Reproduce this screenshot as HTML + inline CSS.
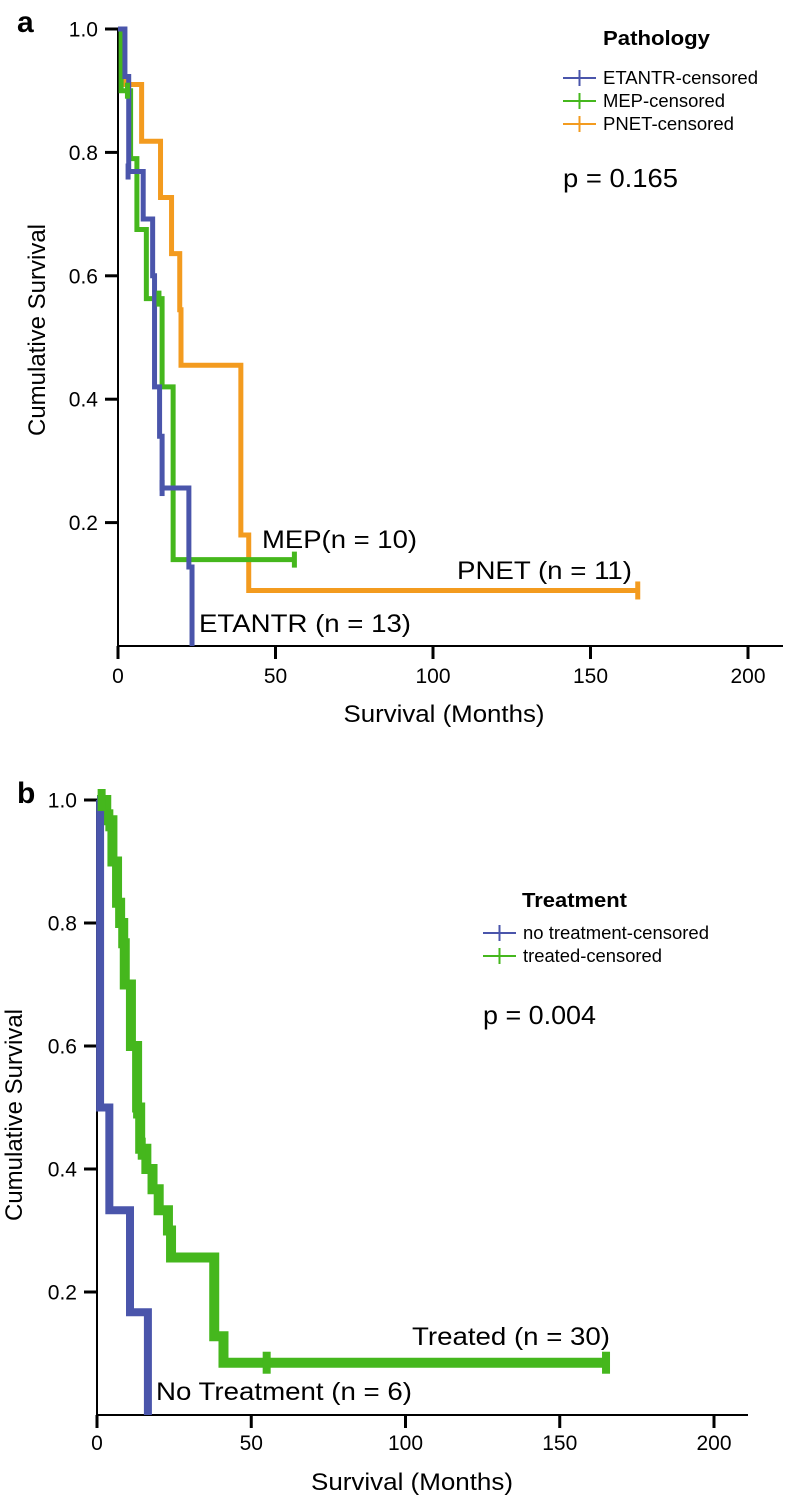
<!DOCTYPE html>
<html>
<head>
<meta charset="utf-8">
<style>
  html,body{margin:0;padding:0;background:#fff;}
  svg{display:block;font-family:"Liberation Sans",Arial,sans-serif;}
</style>
</head>
<body>
<svg id="chart" width="786" height="1498" viewBox="0 0 786 1498" xmlns="http://www.w3.org/2000/svg">
  <!-- Panel a static text -->
  <text x="17" y="32" font-size="30" font-weight="bold">a</text>
  <text transform="translate(45,330) rotate(-90)" text-anchor="middle" font-size="24" textLength="212" lengthAdjust="spacingAndGlyphs">Cumulative Survival</text>
  <text x="444" y="722" text-anchor="middle" font-size="24" textLength="201" lengthAdjust="spacingAndGlyphs">Survival (Months)</text>
  <text x="603" y="45" font-size="20" font-weight="bold" textLength="107" lengthAdjust="spacingAndGlyphs">Pathology</text>
  <text x="563" y="187" font-size="26" textLength="115" lengthAdjust="spacingAndGlyphs">p = 0.165</text>
  <text x="262" y="548" font-size="25" textLength="155" lengthAdjust="spacingAndGlyphs">MEP(n = 10)</text>
  <text x="457" y="579" font-size="25" textLength="175" lengthAdjust="spacingAndGlyphs">PNET (n = 11)</text>
  <text x="199" y="632" font-size="25" textLength="212" lengthAdjust="spacingAndGlyphs">ETANTR (n = 13)</text>

  <!-- Panel b static text -->
  <text x="17" y="803" font-size="30" font-weight="bold">b</text>
  <text transform="translate(22,1115) rotate(-90)" text-anchor="middle" font-size="24" textLength="212" lengthAdjust="spacingAndGlyphs">Cumulative Survival</text>
  <text x="412" y="1490" text-anchor="middle" font-size="24" textLength="202" lengthAdjust="spacingAndGlyphs">Survival (Months)</text>
  <text x="522" y="907" font-size="20" font-weight="bold" textLength="105" lengthAdjust="spacingAndGlyphs">Treatment</text>
  <text x="483" y="1024" font-size="26" textLength="113" lengthAdjust="spacingAndGlyphs">p = 0.004</text>
  <text x="412" y="1345" font-size="25" textLength="198" lengthAdjust="spacingAndGlyphs">Treated (n = 30)</text>
  <text x="156" y="1400" font-size="25" textLength="256" lengthAdjust="spacingAndGlyphs">No Treatment (n = 6)</text>
</svg>
<script>
// ---------- Panel a data ----------
const aXTicks = [0, 50, 100, 150, 200];
const aYTicks = [0.2, 0.4, 0.6, 0.8, 1.0];
const etantrTimes = [0, 2.2, 3.4, 8, 11, 11.6, 13.2, 14, 22.5, 23.5];
const etantrSurv = [1.0, 0.923, 0.769, 0.692, 0.60, 0.42, 0.34, 0.256, 0.128, 0];
const etantrCensor = [3.2, 14];
const etantrCensorSurv = [0.769, 0.256];
const mepTimes = [0, 1, 4, 6, 9, 14, 17.5];
const mepSurv = [1.0, 0.90, 0.79, 0.675, 0.563, 0.42, 0.14];
const mepEnd = 56;
const mepCensor = [3, 13, 56];
const mepCensorSurv = [0.90, 0.563, 0.14];
const pnetTimes = [0, 2, 7.5, 13.5, 17, 20, 39, 41.5];
const pnetSurv = [1.0, 0.91, 0.818, 0.727, 0.636, 0.545, 0.18, 0.09];
const pnetPlateauSurv = 0.455;
const pnetEnd = 165;
const pnetCensor = [165];
const pnetCensorSurv = [0.09];

// ---------- Panel b data ----------
const bXTicks = [0, 50, 100, 150, 200];
const bYTicks = [0.2, 0.4, 0.6, 0.8, 1.0];
const noTxTimes = [0, 1, 4, 10.7, 16.5];
const noTxSurv = [1.0, 0.5, 0.333, 0.167, 0];
const txTimes = [0, 3, 5, 6.5, 7.5, 8.5, 9, 11, 13, 14, 16, 18, 20, 23, 24, 38, 41];
const txSurv = [1.0, 0.967, 0.9, 0.833, 0.8, 0.767, 0.7, 0.6, 0.5, 0.433, 0.4, 0.367, 0.333, 0.3, 0.256, 0.128, 0.085];
const txEnd = 165;
const txCensor = [1.5, 4, 13, 14.5, 55, 165];
const txCensorSurv = [1.0, 0.967, 0.5, 0.433, 0.085, 0.085];

const NS = "http://www.w3.org/2000/svg";
const svg = document.getElementById("chart");

// PNET has a plateau inserted: 0.545 -> 0.455 at ~20mo then 0.18 at 39
pnetSurv.splice(6, 0, pnetPlateauSurv);
pnetTimes.splice(5, 0, 19.5);
pnetTimes[6] = 20; // keep order monotone
// fix: times after splice -> [0,2,7.5,13.5,17,19.5,20,39,41.5]; drop duplicate-ish
pnetTimes.splice(5, 1);
// now pnetTimes = [0,2,7.5,13.5,17,20,39,41.5], need one more for plateau
pnetTimes.splice(5, 0, 19.6);

function mk(tag, attrs) {
  const e = document.createElementNS(NS, tag);
  for (const k in attrs) e.setAttribute(k, attrs[k]);
  svg.appendChild(e);
  return e;
}

function makeAxes(p, xTicks, yTicks, prefix) {
  const sx = v => p.x0 + v * p.kx;
  const sy = v => p.y0 - v * p.ky;
  const ax = mk("line", {x1: p.x0, y1: p.y0, x2: p.xEnd, y2: p.y0, stroke: "#000", "stroke-width": 2});
  
  
  const ay = mk("line", {x1: p.x0, y1: p.y0, x2: p.x0, y2: sy(1.0), stroke: "#000", "stroke-width": 2});
  
  
  xTicks.forEach(t => {
    const tk = mk("line", {x1: sx(t), y1: p.y0, x2: sx(t), y2: p.y0 + 13, stroke: "#000", "stroke-width": 3});
    
    
    const lb = mk("text", {x: sx(t), y: p.xLabY, "text-anchor": "middle", "font-size": 21});
    lb.textContent = String(t);
    
    
  });
  yTicks.forEach(t => {
    const tk = mk("line", {x1: p.x0 - 13, y1: sy(t), x2: p.x0, y2: sy(t), stroke: "#000", "stroke-width": 3});
    
    
    const lb = mk("text", {x: p.yLabX, y: sy(t) + 7.5, "text-anchor": "end", "font-size": 21});
    lb.textContent = t.toFixed(1);
    
    
  });
  return {sx, sy};
}

function stepPath(s, times, surv, end) {
  let d = "M" + s.sx(times[0]) + "," + s.sy(surv[0]);
  for (let i = 1; i < times.length; i++) {
    d += " H" + s.sx(times[i]) + " V" + s.sy(surv[i]);
  }
  if (end !== undefined) d += " H" + s.sx(end);
  return d;
}

function drawCurve(s, times, surv, end, color, w, name) {
  const p = mk("path", {d: stepPath(s, times, surv, end), fill: "none", stroke: color, "stroke-width": w, "stroke-linejoin": "miter", "stroke-linecap": "butt"});
  
  
}

function drawCensors(s, ts, vs, color, w, h, name) {
  ts.forEach((t, i) => {
    const c = mk("line", {x1: s.sx(t), y1: s.sy(vs[i]) - h, x2: s.sx(t), y2: s.sy(vs[i]) + h, stroke: color, "stroke-width": w});
    
    
  });
}

function legendEntry(x, y, color, text, tlen, name) {
  const l1 = mk("line", {x1: x, y1: y, x2: x + 33, y2: y, stroke: color, "stroke-width": 2});
  
  
  const l2 = mk("line", {x1: x + 16.5, y1: y - 8, x2: x + 16.5, y2: y + 8, stroke: color, "stroke-width": 2});
  
  
  const t = mk("text", {x: x + 40, y: y + 6, "font-size": 18, textLength: tlen, lengthAdjust: "spacingAndGlyphs"});
  t.textContent = text;
  
  
}

const BLUE = "#4a55ab", GREEN = "#45b71d", ORANGE = "#f39b1f";

// Panel a
const A = makeAxes({x0: 118, y0: 646, kx: 3.15, ky: 617, xEnd: 783, xLabY: 683, yLabX: 98}, aXTicks, aYTicks, "panel-a");
drawCurve(A, pnetTimes, pnetSurv, pnetEnd, ORANGE, 5, "pnet-curve");
drawCurve(A, mepTimes, mepSurv, mepEnd, GREEN, 5, "mep-curve");
drawCurve(A, etantrTimes, etantrSurv, undefined, BLUE, 5, "etantr-curve");
drawCensors(A, pnetCensor, pnetCensorSurv, ORANGE, 5, 9, "pnet-censor-mark");
drawCensors(A, mepCensor, mepCensorSurv, GREEN, 5, 8, "mep-censor-mark");
drawCensors(A, etantrCensor, etantrCensorSurv, BLUE, 5, 8, "etantr-censor-mark");
legendEntry(563, 78, BLUE, "ETANTR-censored", 155, "legend-etantr");
legendEntry(563, 101, GREEN, "MEP-censored", 122, "legend-mep");
legendEntry(563, 124, ORANGE, "PNET-censored", 131, "legend-pnet");

// Panel b
const B = makeAxes({x0: 97, y0: 1415, kx: 3.085, ky: 615, xEnd: 748, xLabY: 1450, yLabX: 77}, bXTicks, bYTicks, "panel-b");
drawCurve(B, txTimes, txSurv, txEnd, GREEN, 10, "treated-curve");
drawCurve(B, noTxTimes, noTxSurv, undefined, BLUE, 8, "no-treatment-curve");
drawCensors(B, txCensor, txCensorSurv, GREEN, 8, 11, "treated-censor-mark");
legendEntry(483, 933, BLUE, "no treatment-censored", 186, "legend-no-treatment");
legendEntry(483, 956, GREEN, "treated-censored", 139, "legend-treated");
</script>
</body>
</html>
